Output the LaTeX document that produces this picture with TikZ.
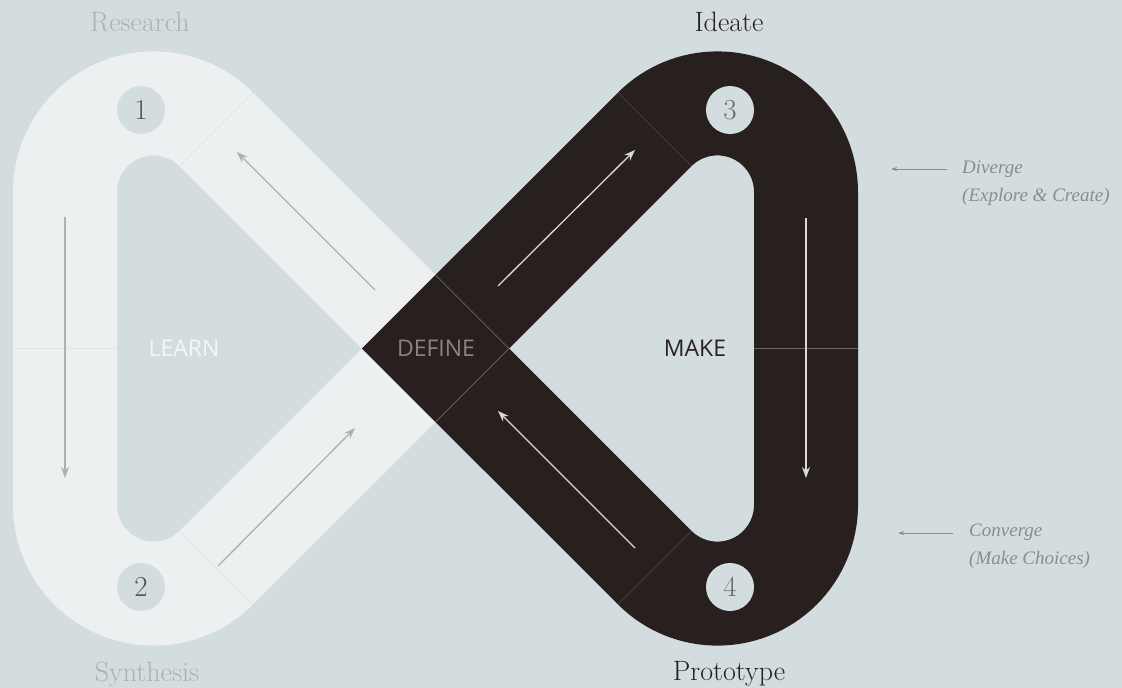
\documentclass[tikz,border=0pt]{standalone}
\usepackage{fontspec}
\newfontfamily\labelsans{Open Sans}
\newfontfamily\notefont{Liberation Serif}
\usetikzlibrary{arrows.meta}
\definecolor{bgcol}{HTML}{D3DDDF}
\definecolor{lightband}{HTML}{ECF0F1}
\definecolor{darkband}{HTML}{28201E}
\definecolor{flowgray}{HTML}{ADB1B2}
\definecolor{flowlight}{HTML}{D9D9D9}
\definecolor{notegray}{HTML}{8C8C8C}
\begin{document}
\begin{tikzpicture}[x=1pt,y=-1pt,line join=miter,
band/.style={line width=104pt},seam/.style={line width=.6pt},
flow/.style={line width=1.3pt,-{Stealth[length=11pt,width=8pt]}},
note/.style={notegray,line width=.7pt,-{Stealth[length=6pt,width=4pt]}},
stage/.style={font=\fontsize{28}{32}\selectfont,anchor=base},
num/.style={circle,fill=bgcol,minimum size=48pt,inner sep=0pt,font=\fontsize{29}{30}\selectfont},
phase/.style={font=\labelsans\fontsize{23}{28}\selectfont},
aside/.style={anchor=base west,align=left,inner sep=0pt,text=notegray,font=\notefont\itshape\fontsize{19}{28}\selectfont}]
\useasboundingbox(0,0)rectangle(1122,688);
\fill[bgcol](0,0)rectangle(1122,688);
\coordinate(O)at(435.5,348.5);
% the two loops, closed with a miter at the crossing
\draw[band,lightband](65,348.5)--(65,192)arc[start angle=180,end angle=315,radius=88.6]--(O)--(216.25,567.65)arc[start angle=45,end angle=180,radius=88.6]--cycle;
\draw[band,darkband](806,348.5)--(806,192)arc[start angle=0,end angle=-135,radius=88.6]--(O)--(654.75,567.65)arc[start angle=135,end angle=0,radius=88.6]--cycle;
% seams
\draw[seam,lightband!95!black](253,92.6)--(179.5,166.1) (253,604.4)--(179.5,530.9) (13,348.5)--(117,348.5);
\draw[seam,darkband!85!white](618,92.6)--(691.5,166.1) (618,604.4)--(691.5,530.9);
\draw[seam,darkband!70!white](754,348.5)--(858,348.5);
\draw[seam,darkband!62!white](435.5,275)--(509,348.5)--(435.5,422);
% flow arrows
\coordinate(l1)at(65,217);\coordinate(l2)at(65,478);\coordinate(u1)at(375,290);\coordinate(u2)at(237,152);\coordinate(d1)at(218,566);\coordinate(d2)at(355,428);
\coordinate(r1)at(806,218);\coordinate(r2)at(806,478);\coordinate(p1)at(498,286);\coordinate(p2)at(635,150);\coordinate(q1)at(635,548);\coordinate(q2)at(498,411);
\foreach\s/\e/\c in{l1/l2/flowgray,u1/u2/flowgray,d1/d2/flowgray,r1/r2/flowlight,p1/p2/flowlight,q1/q2/flowlight}{\draw[flow,\c](\s)--(\e);}
% step numbers
\foreach\n/\p/\c in{1/{141,110}/black!67,2/{141,587}/black!67,3/{730,110}/black!58,4/{730,587}/black!58}{\node[num,text=\c](n\n)at(\p){\n};}
% stage labels
\node[stage,text=flowgray](research)at(140,31){Research};\node[stage,text=flowgray](synthesis)at(147,681){Synthesis};
\node[stage,text=darkband](ideate)at(729,31){Ideate};\node[stage,text=darkband](prototype)at(729,680){Prototype};
\node[phase,text=lightband!60!white](learn)at(184,348.5){LEARN};\node[phase,text=darkband!55!white](define)at(436,348.5){DEFINE};\node[phase,text=darkband](make)at(695,348.5){MAKE};
% side notes
\coordinate(dv1)at(947,169);\coordinate(dv2)at(891,169);\coordinate(cv1)at(953,533);\coordinate(cv2)at(898,533);
\draw[note](dv1)--(dv2);\draw[note](cv1)--(cv2);
\node[aside](diverge)at(962,201){Diverge\\(Explore \& Create)};
\node[aside](converge)at(969,564){Converge\\(Make Choices)};
\end{tikzpicture}
\end{document}
